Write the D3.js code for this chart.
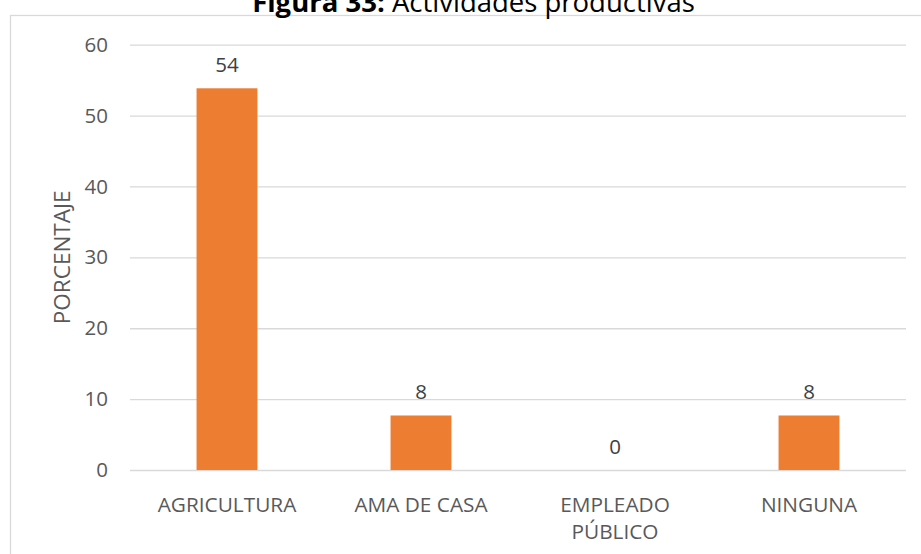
<!DOCTYPE html>
<html>
<head>
<meta charset="utf-8">
<script src="https://cdn.jsdelivr.net/npm/d3@7"></script>
<style>
  html, body { margin: 0; padding: 0; background: #fff; }
  svg { display: block; }
  text { font-family: "Open Sans", "Noto Sans", sans-serif; }
</style>
</head>
<body>
<svg id="chart" width="921" height="554"></svg>
<script>
const titleBold = "Figura 33:";
const titleRest = " Actividades productivas";
const yAxisTitle = "PORCENTAJE";
const categories = ["AGRICULTURA", "AMA DE CASA", "EMPLEADO\nPÚBLICO", "NINGUNA"];
const values = [53.85, 7.69, 0, 7.69];
const yTicks = [0, 10, 20, 30, 40, 50, 60];

const W = 921, H = 554;
const plot = { left: 130, right: 906, top: 44.7, bottom: 470 };

const svg = d3.select("#chart");

// chart border
svg.append("rect")
  .attr("x", 10.5).attr("y", 15.5)
  .attr("width", W).attr("height", H)
  .attr("fill", "#fff")
  .attr("stroke", "#d9d9d9").attr("stroke-width", 1.3);

const x = d3.scaleBand()
  .domain(categories)
  .range([plot.left, plot.right])
  .paddingInner(0.686)
  .paddingOuter(0.343);

const y = d3.scaleLinear()
  .domain([0, 60])
  .range([plot.bottom, plot.top]);

// gridlines
const grid = svg.append("g")
  .call(d3.axisLeft(y).tickValues(yTicks).tickSize(-(plot.right - plot.left)).tickFormat(""))
  .attr("transform", `translate(${plot.left},0)`);
grid.select(".domain").remove();
grid.selectAll("line").attr("stroke", "#d9d9d9").attr("stroke-width", 1.3);

// y tick labels
const yAxis = svg.append("g")
  .attr("transform", `translate(${plot.left},0)`)
  .call(d3.axisLeft(y).tickValues(yTicks).tickSize(0).tickPadding(22));
yAxis.select(".domain").remove();
yAxis.selectAll("text")
  .attr("font-family", "Open Sans")
  .attr("font-size", 20.5)
  .attr("fill", "#595959");

// bars
svg.append("g").selectAll("rect")
  .data(values)
  .join("rect")
  .attr("x", (d, i) => x(categories[i]))
  .attr("y", d => y(d))
  .attr("width", x.bandwidth())
  .attr("height", d => y(0) - y(d))
  .attr("fill", "#ED7D31");

// data labels
svg.append("g").selectAll("text")
  .data(values)
  .join("text")
  .attr("x", (d, i) => x(categories[i]) + x.bandwidth() / 2)
  .attr("y", d => y(d) - 16.5)
  .attr("text-anchor", "middle")
  .attr("font-size", 20.5)
  .attr("fill", "#404040")
  .text(d => d3.format(".0f")(d));

// x axis labels
const xAxis = svg.append("g")
  .attr("transform", `translate(0,${plot.bottom})`)
  .call(d3.axisBottom(x).tickSize(0).tickFormat(""));
xAxis.select(".domain").remove();
xAxis.selectAll(".tick").each(function (d) {
  const lines = d.split("\n");
  const t = d3.select(this).append("text")
    .attr("text-anchor", "middle")
    .attr("font-family", "Open Sans")
    .attr("font-size", 20.8)
    .attr("fill", "#595959");
  lines.forEach((ln, k) => {
    t.append("tspan").attr("x", 0).attr("y", 41.5 + k * 27).text(ln);
  });
});

// y axis title
svg.append("text")
  .attr("transform", `translate(70,${(plot.top + plot.bottom) / 2}) rotate(-90)`)
  .attr("text-anchor", "middle")
  .attr("font-size", 22.5)
  .attr("fill", "#595959")
  .text(yAxisTitle);

// title
const title = svg.append("text")
  .attr("x", 473.5)
  .attr("y", 12)
  .attr("text-anchor", "middle")
  .attr("font-size", 27.5)
  .attr("fill", "#000");
title.append("tspan").attr("font-weight", "bold").text(titleBold);
title.append("tspan").text(titleRest);
</script>
</body>
</html>
